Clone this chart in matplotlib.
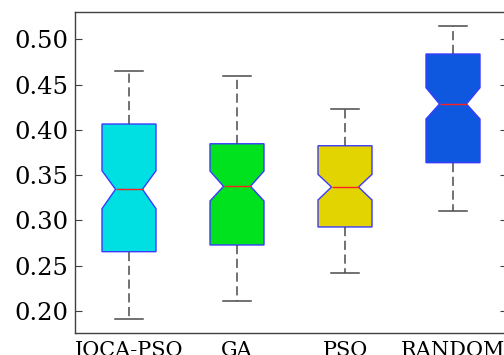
import matplotlib
matplotlib.use("Agg")
import matplotlib.pyplot as plt

# Summary statistics per algorithm
categories = ["IOCA-PSO", "GA", "PSO", "RANDOM"]
medians = [0.3344, 0.3377, 0.3369, 0.4286]
q1 = [0.2655, 0.2729, 0.2928, 0.3638]
q3 = [0.4065, 0.3847, 0.3825, 0.4838]
notch_lo = [0.3130, 0.3215, 0.3226, 0.4120]
notch_hi = [0.3549, 0.3546, 0.3509, 0.4466]
whisker_lo = [0.1908, 0.2107, 0.2423, 0.3104]
whisker_hi = [0.4650, 0.4591, 0.4230, 0.5150]
box_colors = ["#00e0e2", "#00e21e", "#e2d400", "#0e58e0"]
yticks = [0.20, 0.25, 0.30, 0.35, 0.40, 0.45, 0.50]

stats = []
for i, name in enumerate(categories):
    stats.append(dict(label=name, med=medians[i], q1=q1[i], q3=q3[i],
                      cilo=notch_lo[i], cihi=notch_hi[i],
                      whislo=whisker_lo[i], whishi=whisker_hi[i], fliers=[]))

plt.rcParams["font.family"] = "DejaVu Serif"

fig = plt.figure(figsize=(5.04, 3.55), dpi=100)
ax = fig.add_axes([75 / 504, 22 / 355, 432 / 504, 321 / 355])

positions = list(range(1, len(categories) + 1))
bp = ax.bxp(stats, positions=positions, widths=0.5, shownotches=True,
            patch_artist=True, showfliers=False,
            boxprops=dict(edgecolor="#3a3aff", linewidth=1.0),
            medianprops=dict(color="#ff2020", linewidth=1.0),
            whiskerprops=dict(color="#4a4a4a", linewidth=1.1,
                              linestyle=(0, (6, 3))),
            capprops=dict(color="#4a4a4a", linewidth=1.1),
            capwidths=0.26)
for patch, c in zip(bp["boxes"], box_colors):
    patch.set_facecolor(c)

ax.set_xlim(0.5, 4.5)
ax.set_ylim(0.1757, 0.5302)
ax.set_yticks(yticks)
ax.set_yticklabels([f"{v:.2f}" for v in yticks])
ax.set_xticks(positions)
ax.set_xticklabels(categories)

ax.tick_params(axis="y", direction="in", length=5, width=0.8, color="#404040",
               labelsize=17.5, pad=5, right=True)
ax.tick_params(axis="x", length=0, labelsize=15, pad=6)
for s in ax.spines.values():
    s.set_color("#404040")
    s.set_linewidth(1.0)

fig.savefig("out.png", dpi=100)
